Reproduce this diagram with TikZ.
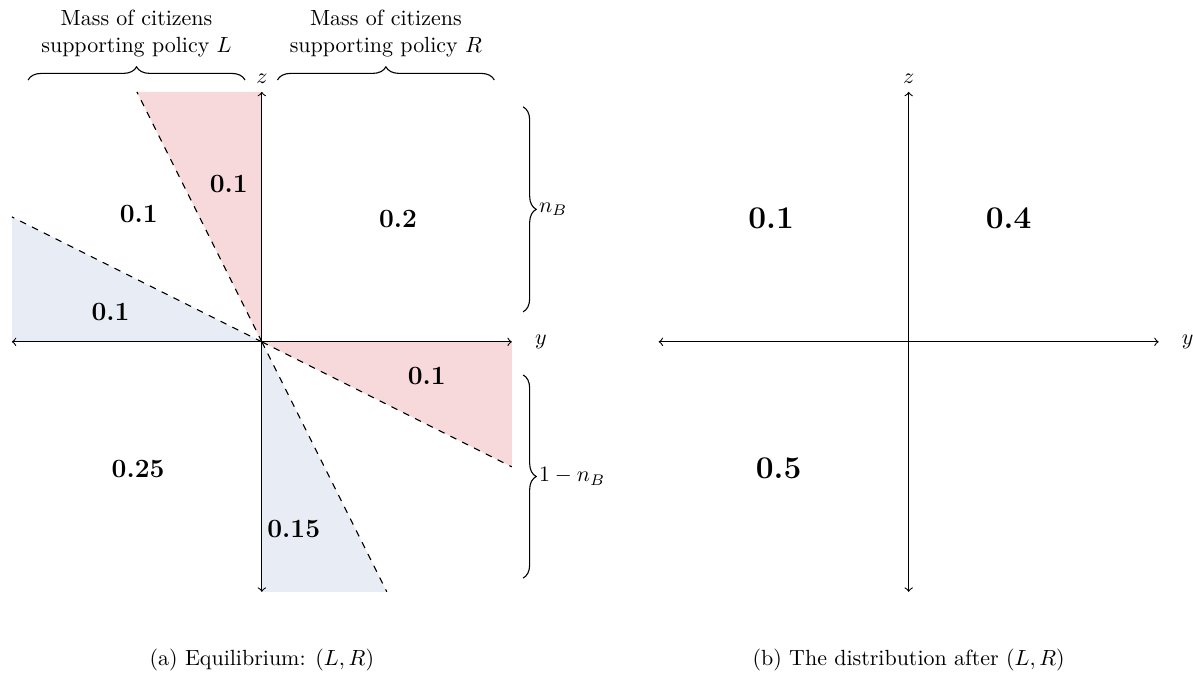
\documentclass[tikz,border=0pt]{standalone}
\usepackage{amsmath}
\usetikzlibrary{decorations.pathreplacing,positioning,calc}
\definecolor{lpink}{rgb}{0.97,0.85,0.86}
\definecolor{lblue}{rgb}{0.91,0.93,0.96}
\tikzset{
  axis/.style={<->, line width=0.5pt},
  cut/.style={dashed, line width=0.5pt},
  mass/.style={font=\large\bfseries},
  bigmass/.style={font=\Large\bfseries},
  brc/.style={decorate, decoration={brace, amplitude=6pt}, line width=0.5pt},
  caption/.style={align=center},
}
\begin{document}
\begin{tikzpicture}
    \useasboundingbox (-4.19,-5.33) rectangle (14.9,5.47);
    % (a) equilibrium
    \coordinate (o) at (0,0);
    \coordinate (w) at (-4,0);
    \coordinate (e) at (4,0);
    \coordinate (s) at (0,-4);
    \coordinate (n) at (0,4);
    \fill[lpink] (o) -- (-2,4) -- (n) -- cycle;
    \fill[lblue] (o) -- (-4,2) -- (w) -- cycle;
    \fill[lpink] (o) -- (e) -- (4,-2) -- cycle;
    \fill[lblue] (o) -- (s) -- (2,-4) -- cycle;
    \draw[cut] (o) -- (-2,4);
    \draw[cut] (o) -- (-4,2);
    \draw[cut] (o) -- (4,-2);
    \draw[cut] (o) -- (2,-4);
    \draw[axis] (w) -- (e) node[right=7pt] (ya) {$y$};
    \draw[axis] (s) -- (n) node[above] (za) {$z$};
    \node[mass] (m1) at (-0.53,2.52) {0.1};
    \node[mass] (m2) at (-1.97,2.05) {0.1};
    \node[mass] (m3) at (2.18,1.96) {0.2};
    \node[mass] (m4) at (-2.42,0.47) {0.1};
    \node[mass] (m5) at (2.64,-0.55) {0.1};
    \node[mass] (m6) at (-1.98,-2.04) {0.25};
    \node[mass] (m7) at (0.51,-2.99) {0.15};
    % braces
    \draw[brc] (-3.74,4.19) -- node[above=7pt, align=center] (tl)
      {Mass of citizens\\supporting policy $L$} (-0.27,4.19);
    \draw[brc] (0.25,4.19) -- node[above=7pt, align=center] (tr)
      {Mass of citizens\\supporting policy $R$} (3.72,4.19);
    \draw[brc] (4.18,3.76) -- node[right=6pt, inner sep=1pt] (nb) {$n_B$} (4.18,0.48);
    \draw[brc] (4.18,-0.53) -- node[right=6pt, inner sep=1pt] (nb1) {$1-n_B$} (4.18,-3.78);
    \node[caption] (capa) at (0,-5.09) {(a) Equilibrium: $(L,R)$};
    % (b) after
    \begin{scope}[xshift=10.35cm]
      \coordinate (bw) at (-4,0);
      \coordinate (be) at (4,0);
      \coordinate (bs) at (0,-4);
      \coordinate (bn) at (0,4);
      \draw[axis] (bw) -- (be) node[right=7pt] (yb) {$y$};
      \draw[axis] (bs) -- (bn) node[above] (zb) {$z$};
      \node[bigmass] (b1) at (-2.2,1.98) {0.1};
      \node[bigmass] (b2) at (1.6,1.98) {0.4};
      \node[bigmass] (b3) at (-2.08,-2.02) {0.5};
      \node[caption] (capb) at (0,-5.09) {(b) The distribution after $(L,R)$};
    \end{scope}
\end{tikzpicture}
\end{document}
